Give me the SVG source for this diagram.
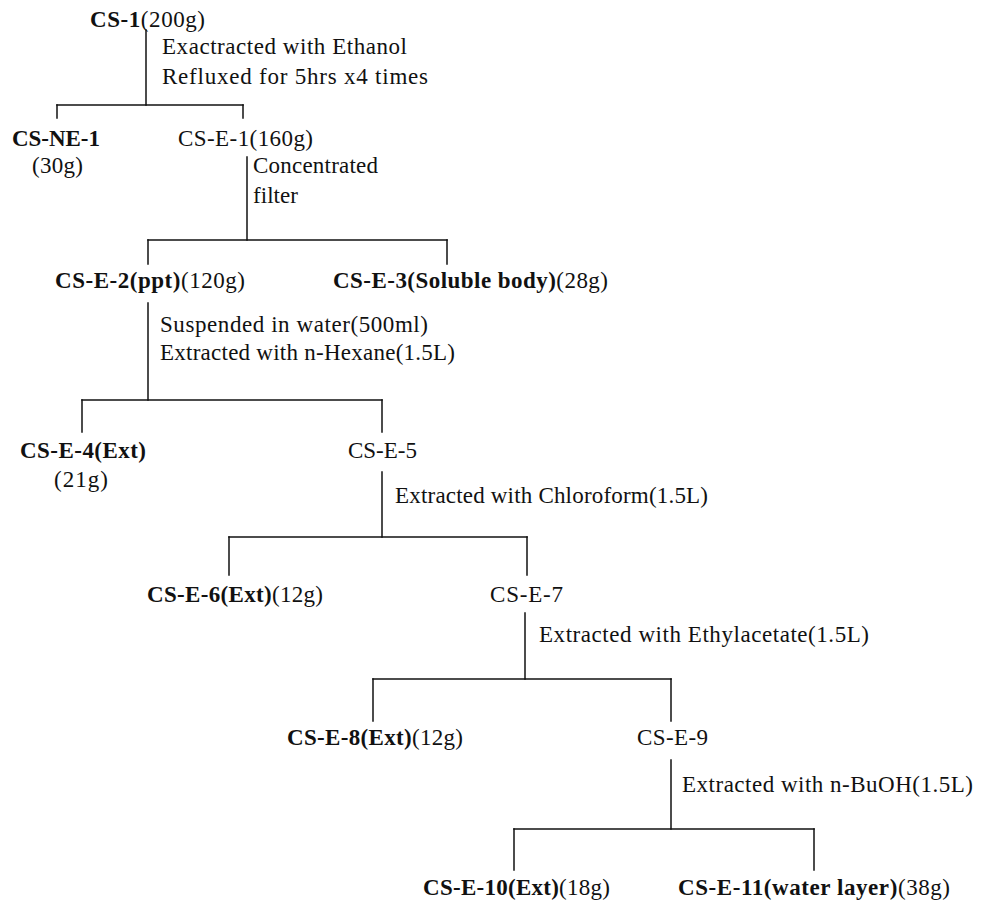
<svg xmlns="http://www.w3.org/2000/svg" width="982" height="902" viewBox="0 0 982 902">
<style>
  text { font-family: "Liberation Serif", "Times New Roman", serif; font-size: 23px; fill: #111; }
  .b { font-weight: bold; }
  .c line { stroke: #111; stroke-width: 1.5; stroke-linecap: square; }
</style>
<rect width="982" height="902" fill="#fff"/>
<g id="connectors" class="c">
  <line x1="146" y1="30" x2="146" y2="105"/>
  <line x1="57" y1="105" x2="243" y2="105"/>
  <line x1="57" y1="105" x2="57" y2="118"/>
  <line x1="243" y1="105" x2="243" y2="118"/>

  <line x1="247" y1="157" x2="247" y2="240"/>
  <line x1="148" y1="240" x2="447" y2="240"/>
  <line x1="148" y1="240" x2="148" y2="264"/>
  <line x1="447" y1="240" x2="447" y2="264"/>

  <line x1="148" y1="303" x2="148" y2="400"/>
  <line x1="82" y1="400" x2="382" y2="400"/>
  <line x1="82" y1="400" x2="82" y2="432"/>
  <line x1="382" y1="400" x2="382" y2="432"/>

  <line x1="382" y1="472" x2="382" y2="537"/>
  <line x1="229" y1="537" x2="527" y2="537"/>
  <line x1="229" y1="537" x2="229" y2="575"/>
  <line x1="527" y1="537" x2="527" y2="575"/>

  <line x1="525" y1="613" x2="525" y2="679"/>
  <line x1="373" y1="679" x2="671" y2="679"/>
  <line x1="373" y1="679" x2="373" y2="721"/>
  <line x1="671" y1="679" x2="671" y2="721"/>

  <line x1="671" y1="760" x2="671" y2="829"/>
  <line x1="514" y1="829" x2="814" y2="829"/>
  <line x1="514" y1="829" x2="514" y2="870"/>
  <line x1="814" y1="829" x2="814" y2="870"/>
</g>
<g id="edge-labels">
  <text x="162" y="54" textLength="245" lengthAdjust="spacing">Exactracted with Ethanol</text>
  <text x="162" y="84" textLength="266" lengthAdjust="spacing">Refluxed for 5hrs x4 times</text>
  <text x="253" y="173" textLength="125" lengthAdjust="spacing">Concentrated</text>
  <text x="253" y="203" textLength="45" lengthAdjust="spacing">filter</text>
  <text x="160" y="332" textLength="268" lengthAdjust="spacing">Suspended in water(500ml)</text>
  <text x="160" y="360" textLength="295" lengthAdjust="spacing">Extracted with n-Hexane(1.5L)</text>
  <text x="395" y="503" textLength="313" lengthAdjust="spacing">Extracted with Chloroform(1.5L)</text>
  <text x="539" y="642" textLength="330" lengthAdjust="spacing">Extracted with Ethylacetate(1.5L)</text>
  <text x="682" y="792" textLength="291" lengthAdjust="spacing">Extracted with n-BuOH(1.5L)</text>
</g>
<g id="cs-1"><text x="90" y="27" textLength="115" lengthAdjust="spacing"><tspan class="b">CS-1</tspan>(200g)</text></g>
<g id="cs-ne-1">
  <text x="12" y="146" textLength="88" lengthAdjust="spacing" class="b">CS-NE-1</text>
  <text x="32" y="173" textLength="51" lengthAdjust="spacing">(30g)</text>
</g>
<g id="cs-e-1"><text x="178" y="146" textLength="135" lengthAdjust="spacing">CS-E-1(160g)</text></g>
<g id="cs-e-2"><text x="55" y="288" textLength="190" lengthAdjust="spacing"><tspan class="b">CS-E-2(ppt)</tspan>(120g)</text></g>
<g id="cs-e-3"><text x="333" y="288" textLength="275" lengthAdjust="spacing"><tspan class="b">CS-E-3(Soluble body)</tspan>(28g)</text></g>
<g id="cs-e-4">
  <text x="20" y="458" textLength="126" lengthAdjust="spacing" class="b">CS-E-4(Ext)</text>
  <text x="54" y="487" textLength="54" lengthAdjust="spacing">(21g)</text>
</g>
<g id="cs-e-5"><text x="348" y="458" textLength="69" lengthAdjust="spacing">CS-E-5</text></g>
<g id="cs-e-6"><text x="147" y="602" textLength="176" lengthAdjust="spacing"><tspan class="b">CS-E-6(Ext)</tspan>(12g)</text></g>
<g id="cs-e-7"><text x="490" y="602" textLength="73" lengthAdjust="spacing">CS-E-7</text></g>
<g id="cs-e-8"><text x="287" y="745" textLength="176" lengthAdjust="spacing"><tspan class="b">CS-E-8(Ext)</tspan>(12g)</text></g>
<g id="cs-e-9"><text x="637" y="745" textLength="71" lengthAdjust="spacing">CS-E-9</text></g>
<g id="cs-e-10"><text x="423" y="895" textLength="187" lengthAdjust="spacing"><tspan class="b">CS-E-10(Ext)</tspan>(18g)</text></g>
<g id="cs-e-11"><text x="678" y="895" textLength="272" lengthAdjust="spacing"><tspan class="b">CS-E-11(water layer)</tspan>(38g)</text></g>
</svg>
